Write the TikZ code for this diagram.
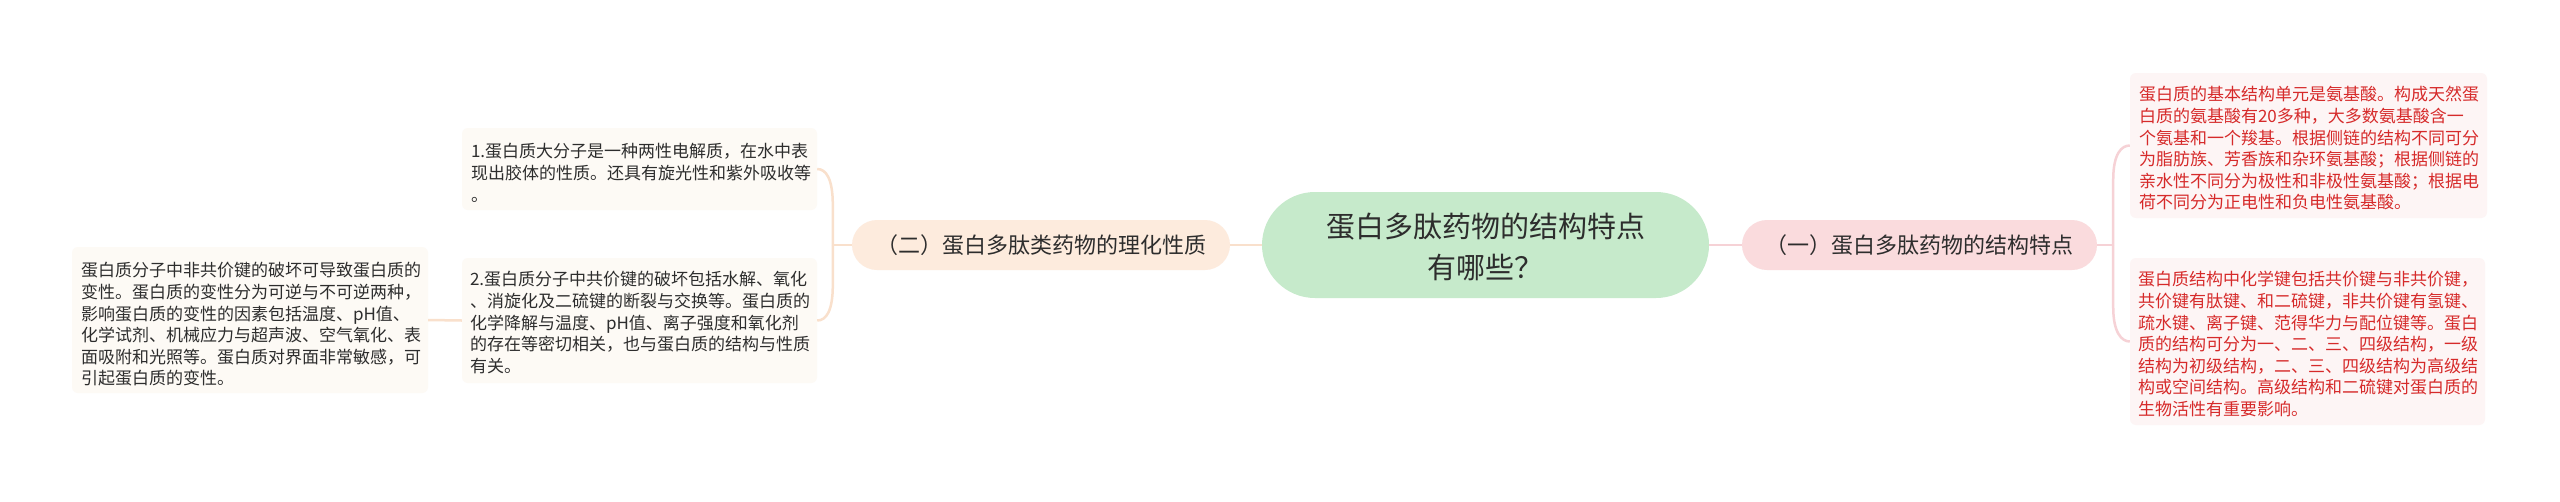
\documentclass[tikz,border=0pt]{standalone}
\usepackage{fontspec}
\setmainfont{Noto Sans CJK SC}
\usetikzlibrary{calc}
\definecolor{rootfill}{RGB}{198,234,203}
\definecolor{peachfill}{RGB}{253,235,221}
\definecolor{pinkfill}{RGB}{250,219,221}
\definecolor{peachline}{RGB}{249,224,204}
\definecolor{pinkline}{RGB}{246,210,214}
\definecolor{leafL}{RGB}{253,250,245}
\definecolor{leafR}{RGB}{253,245,245}
\definecolor{txt}{RGB}{45,45,45}
\definecolor{redtxt}{RGB}{214,42,42}
\begin{document}
\begin{tikzpicture}[x=1pt,y=-1pt,
  boxbase/.style={rectangle, inner sep=0pt, draw=none},
  rootbox/.style={boxbase, fill=rootfill, rounded corners=53pt},
  branchL/.style={boxbase, fill=peachfill, rounded corners=25pt, text=txt,
    font=\fontsize{22}{26}\selectfont, text height=18.7pt, text depth=2pt},
  branchR/.style={boxbase, fill=pinkfill, rounded corners=25pt, text=txt,
    font=\fontsize{22}{26}\selectfont, text height=18.7pt, text depth=2pt},
  leafLbox/.style={boxbase, fill=leafL, rounded corners=6pt},
  leafRbox/.style={boxbase, fill=leafR, rounded corners=6pt},
  leaftext/.style={inner sep=0pt, anchor=base west, text width=346pt, align=left,
    font=\fontsize{17}{21.6}\selectfont},
  lconn/.style={draw=peachline, line width=2.5pt},
  rconn/.style={draw=pinkline, line width=2.5pt}
]
\fill[white] (0,0) rectangle (2560,501);
\useasboundingbox (0,0) rectangle (2560,501);

% root
\node[rootbox, minimum width=447pt, minimum height=106pt] (root) at (1485.5,245) {};
\node[inner sep=0pt, anchor=base, text width=360pt, align=center, text=txt,
  font=\fontsize{29}{41}\selectfont] (roott) at ($(root.north)+(0,46)$)
  {蛋白多肽药物的结构特点\\有哪些？};

% branches
\node[branchL, minimum width=378pt, minimum height=50pt] (b2) at (1041,245) {（二）蛋白多肽类药物的理化性质};
\node[branchR, minimum width=355pt, minimum height=50pt] (b1) at (1919.5,245) {（一）蛋白多肽药物的结构特点};

% left leaves
\node[leafLbox, minimum width=355pt, minimum height=82pt] (l1) at (639.5,169) {};
\node[leaftext, text=txt] (l1t) at ($(l1.north west)+(9,30)$)
  {1.蛋白质大分子是一种两性电解质，在水中表\\现出胶体的性质。还具有旋光性和紫外吸收等\\。};
\node[leafLbox, minimum width=355pt, minimum height=125pt] (l2) at (639.5,320.5) {};
\node[leaftext, text=txt] (l2t) at ($(l2.north west)+(8,28)$)
  {2.蛋白质分子中共价键的破坏包括水解、氧化\\、消旋化及二硫键的断裂与交换等。蛋白质的\\化学降解与温度、pH值、离子强度和氧化剂\\的存在等密切相关，也与蛋白质的结构与性质\\有关。};
\node[leafLbox, minimum width=356pt, minimum height=146pt] (l3) at (250,320) {};
\node[leaftext, text=txt] (l3t) at ($(l3.north west)+(9,30)$)
  {蛋白质分子中非共价键的破坏可导致蛋白质的\\变性。蛋白质的变性分为可逆与不可逆两种，\\影响蛋白质的变性的因素包括温度、pH值、\\化学试剂、机械应力与超声波、空气氧化、表\\面吸附和光照等。蛋白质对界面非常敏感，可\\引起蛋白质的变性。};

% right leaves
\node[leafRbox, minimum width=357pt, minimum height=145pt] (r1) at (2308.5,145.5) {};
\node[leaftext, text=redtxt] (r1t) at ($(r1.north west)+(9,28)$)
  {蛋白质的基本结构单元是氨基酸。构成天然蛋\\白质的氨基酸有20多种，大多数氨基酸含一\\个氨基和一个羧基。根据侧链的结构不同可分\\为脂肪族、芳香族和杂环氨基酸；根据侧链的\\亲水性不同分为极性和非极性氨基酸；根据电\\荷不同分为正电性和负电性氨基酸。};
\node[leafRbox, minimum width=355pt, minimum height=167pt] (r2) at (2307.5,341.5) {};
\node[leaftext, text=redtxt] (r2t) at ($(r2.north west)+(8,28)$)
  {蛋白质结构中化学键包括共价键与非共价键，\\共价键有肽键、和二硫键，非共价键有氢键、\\疏水键、离子键、范得华力与配位键等。蛋白\\质的结构可分为一、二、三、四级结构，一级\\结构为初级结构，二、三、四级结构为高级结\\构或空间结构。高级结构和二硫键对蛋白质的\\生物活性有重要影响。};

% connectors
\draw[lconn] (root.west) -- (b2.east);
\draw[rconn] (root.east) -- (b1.west);

\coordinate (lj) at ($(b2.west)+(-19,0)$);
\draw[lconn] (b2.west) -- (lj);
\draw[lconn] (lj) -- ($(lj)+(0,-40)$) .. controls ($(lj)+(0,-66)$) and ($(l1.east)+(9,0)$) .. (l1.east);
\draw[lconn] (lj) -- ($(lj)+(0,40)$) .. controls ($(lj)+(0,66)$) and ($(l2.east)+(9,0)$) .. (l2.east);
\draw[lconn] (l2.west) -- (l3.east);

\coordinate (rj) at ($(b1.east)+(16,0)$);
\draw[rconn] (b1.east) -- (rj);
\draw[rconn] (rj) -- ($(rj)+(0,-65)$) .. controls ($(rj)+(0,-92)$) and ($(r1.west)+(-8,0)$) .. (r1.west);
\draw[rconn] (rj) -- ($(rj)+(0,62)$) .. controls ($(rj)+(0,88)$) and ($(r2.west)+(-8,0)$) .. (r2.west);
\end{tikzpicture}
\end{document}
